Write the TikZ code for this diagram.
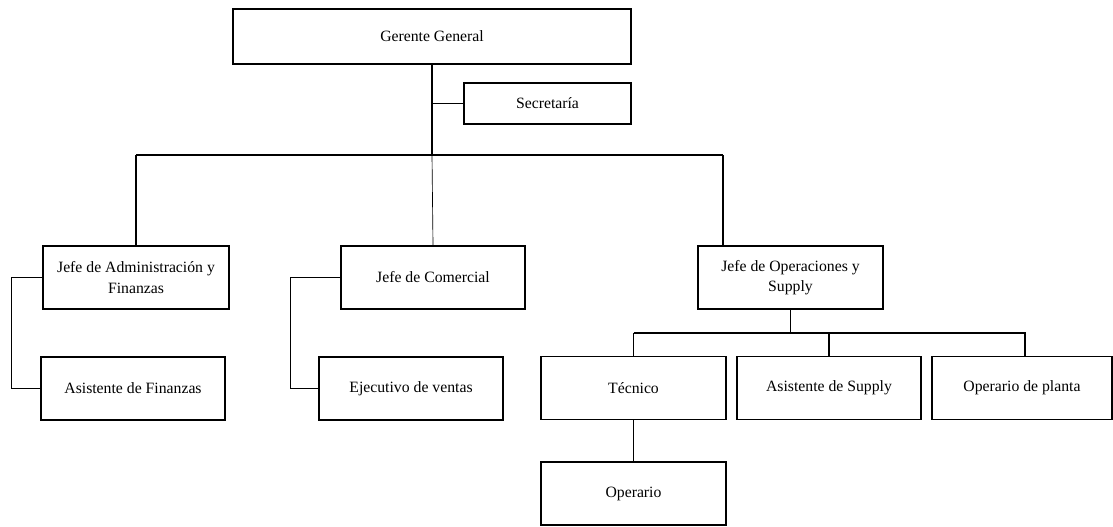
\documentclass[tikz,border=0pt]{standalone}
\usepackage{fontspec}
\setmainfont{Liberation Serif}

\begin{document}
\begin{tikzpicture}[x=0.75pt, y=-0.75pt,
    caja/.style={draw, line width=1pt, rectangle, align=center,
        font=\fontsize{11.8}{15.5}\selectfont, minimum height=47.25pt, inner sep=0pt},
    linea/.style={line width=1.1pt},
    fina/.style={line width=0.5pt}]
    \useasboundingbox (0,0) rectangle (1113,526);

    % Gerencia
    \node[caja, line width=1.4pt, minimum width=298.5pt, minimum height=41.25pt] (gerente) at (432,36.5) {Gerente General};
    \node[caja, minimum width=125.25pt, minimum height=30.75pt] (secre) at (547.5,103.5) {Secretaría};

    % Jefaturas
    \node[caja, minimum width=139.5pt] (jefeadm) at (136,277.5) {Jefe de Administración y\\Finanzas};
    \node[caja, minimum width=138pt] (jefecom) at (433,277.5) {Jefe de Comercial};
    \node[caja, minimum width=138.75pt] (jefeops) at (790.5,277.5) {Jefe de Operaciones y\\Supply};

    % Personal
    \node[caja, minimum width=138pt] (asisfin) at (133,388.5) {Asistente de Finanzas};
    \node[caja, minimum width=138pt] (ejecutivo) at (411,388.5) {Ejecutivo de ventas};
    \node[caja, minimum width=138.75pt] (tecnico) at (633.5,388) {Técnico};
    \node[caja, minimum width=138pt] (asissup) at (829,388) {Asistente de Supply};
    \node[caja, minimum width=135pt] (opplanta) at (1022,388) {Operario de planta};
    \node[caja, minimum width=138.75pt] (operario) at (633.5,493.5) {Operario};

    % Conexiones de gerencia
    \coordinate (barraG) at (432,155);
    \coordinate (barraI) at (136,155);
    \coordinate (barraD) at (723,155);
    \draw[linea, line width=1.4pt] (gerente.south) -- (barraG);
    \draw[fina] (barraG) -- (jefecom.north);
    \draw[fina] (secre.west) -- (secre.west -| barraG);
    \draw[linea] (barraI) -- (barraD);
    \draw[linea] (barraI) -- (jefeadm.north);
    \draw[linea] (barraD) -- (barraD |- jefeops.north);

    % Administracion y comercial
    \draw[linea] (jefeadm.west) -- ++(-31,0) |- (asisfin.west);
    \draw[linea] (jefecom.west) -- ++(-50,0) |- (ejecutivo.west);

    % Operaciones
    \coordinate (barraO) at (790.5,333);
    \draw[linea] (jefeops.south) -- (barraO);
    \draw[linea] (tecnico.north |- barraO) -- (1025,333) -- (1025,357);
    \draw[linea] (tecnico.north |- barraO) -- (tecnico.north);
    \draw[linea] (asissup.north |- barraO) -- (asissup.north);
    \draw[fina] (tecnico.south) -- (operario.north);
\end{tikzpicture}
\end{document}
